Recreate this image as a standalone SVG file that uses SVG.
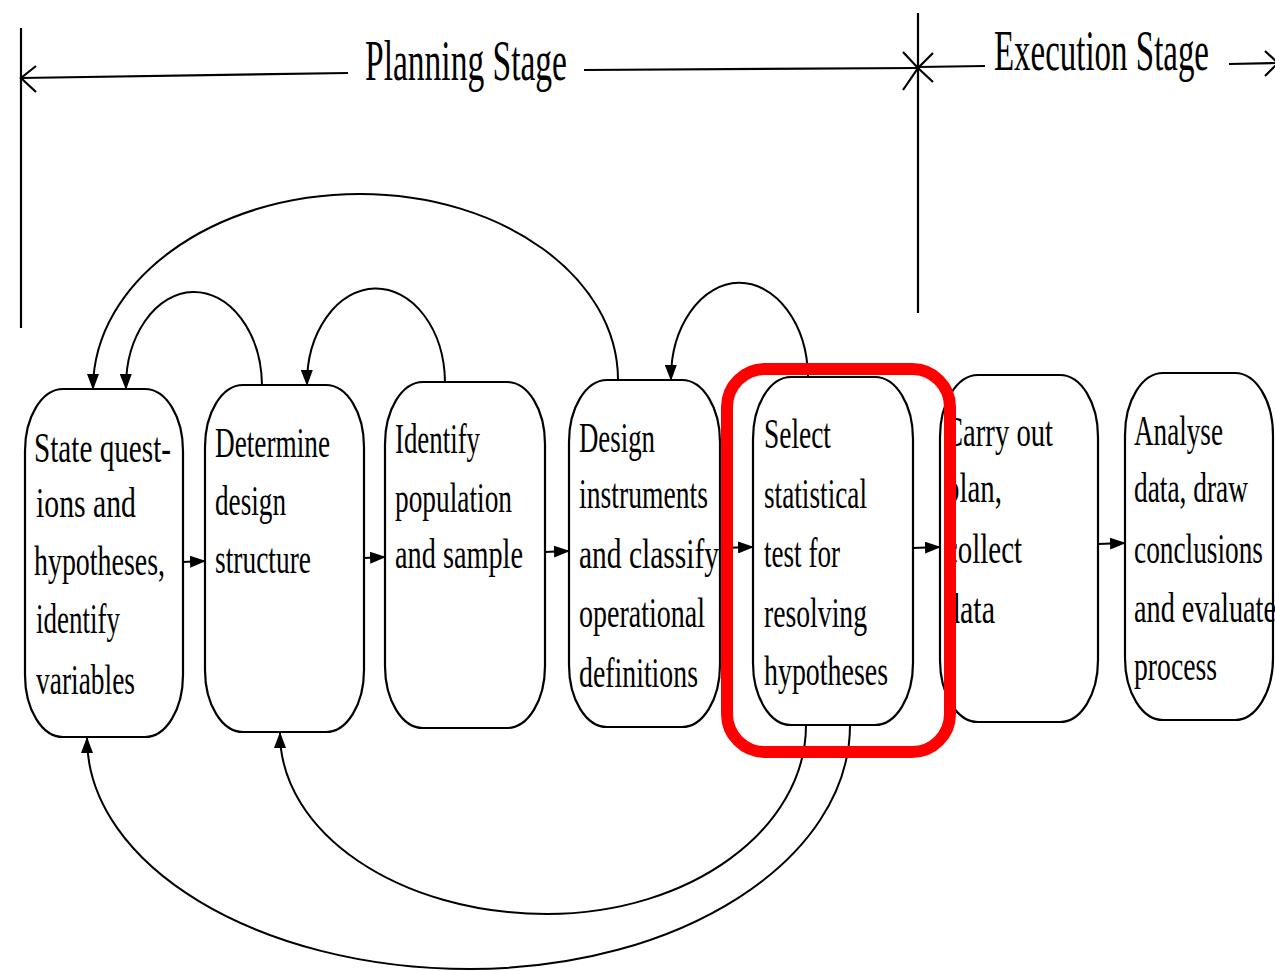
<svg xmlns="http://www.w3.org/2000/svg" width="1275" height="971" viewBox="0 0 1275 971">
<style>
.bx{fill:#fff;stroke:#000;stroke-width:2.2}
.t{font-family:"Liberation Serif","Times New Roman",serif;font-size:43px;fill:#000}
.h{font-family:"Liberation Serif","Times New Roman",serif;font-size:56px;fill:#000}
.ln{fill:none;stroke:#000;stroke-width:2.2}
.ar{fill:none;stroke:#000;stroke-width:2;marker-end:url(#ah)}
</style>
<defs>
<marker id="ah" markerUnits="userSpaceOnUse" markerWidth="16" markerHeight="12" refX="15" refY="6" orient="auto" viewBox="0 0 16 12">
<path d="M0,0 L16,6 L0,12 z" fill="#000"/>
</marker>
</defs>
<rect width="1275" height="971" fill="#fff"/>

<g id="header">
<path class="ln" d="M21 28 L21 328"/>
<path class="ln" d="M21 78 L348 73"/>
<path class="ln" d="M36 66 L21 78 L36 92"/>
<text class="h" x="365" y="80" textLength="202" lengthAdjust="spacingAndGlyphs">Planning Stage</text>
<path class="ln" d="M584 70 L918 68"/>
<path class="ln" d="M918 13 L918 313"/>
<path class="ln" d="M903 52 L918 68 L903 90"/>
<path class="ln" d="M933 53 L918 68 L933 82"/>
<path class="ln" d="M918 67 L985 66"/>
<text class="h" x="994" y="70" textLength="215" lengthAdjust="spacingAndGlyphs">Execution Stage</text>
<path class="ln" d="M1229 64 L1276 63"/>
<path class="ln" d="M1265 51 L1278 63 L1265 76"/>
</g>

<g id="n1">
<rect class="bx" x="25" y="389" width="158" height="348" rx="38" ry="62"/>
<text class="t" x="34" y="462" textLength="137" lengthAdjust="spacingAndGlyphs">State quest-</text>
<text class="t" x="36" y="517" textLength="100" lengthAdjust="spacingAndGlyphs">ions and</text>
<text class="t" x="34" y="575" textLength="131" lengthAdjust="spacingAndGlyphs">hypotheses,</text>
<text class="t" x="36" y="633" textLength="84" lengthAdjust="spacingAndGlyphs">identify</text>
<text class="t" x="36" y="694" textLength="99" lengthAdjust="spacingAndGlyphs">variables</text>
</g>

<g id="n2">
<rect class="bx" x="205" y="385" width="159" height="347" rx="38" ry="62"/>
<text class="t" x="215" y="457" textLength="115" lengthAdjust="spacingAndGlyphs">Determine</text>
<text class="t" x="215" y="515" textLength="71" lengthAdjust="spacingAndGlyphs">design</text>
<text class="t" x="215" y="573" textLength="96" lengthAdjust="spacingAndGlyphs">structure</text>
</g>

<g id="n3">
<rect class="bx" x="385" y="382" width="160" height="346" rx="38" ry="62"/>
<text class="t" x="395" y="453" textLength="85" lengthAdjust="spacingAndGlyphs">Identify</text>
<text class="t" x="395" y="512" textLength="117" lengthAdjust="spacingAndGlyphs">population</text>
<text class="t" x="395" y="568" textLength="128" lengthAdjust="spacingAndGlyphs">and sample</text>
</g>

<g id="n4">
<rect class="bx" x="569" y="380" width="151" height="347" rx="38" ry="62"/>
<text class="t" x="579" y="452" textLength="76" lengthAdjust="spacingAndGlyphs">Design</text>
<text class="t" x="579" y="508" textLength="129" lengthAdjust="spacingAndGlyphs">instruments</text>
<text class="t" x="579" y="568" textLength="140" lengthAdjust="spacingAndGlyphs">and classify</text>
<text class="t" x="579" y="627" textLength="126" lengthAdjust="spacingAndGlyphs">operational</text>
<text class="t" x="579" y="687" textLength="119" lengthAdjust="spacingAndGlyphs">definitions</text>
</g>

<g id="n5">
<rect class="bx" x="753" y="377" width="160" height="348" rx="38" ry="62"/>
<text class="t" x="764" y="448" textLength="67" lengthAdjust="spacingAndGlyphs">Select</text>
<text class="t" x="764" y="508" textLength="103" lengthAdjust="spacingAndGlyphs">statistical</text>
<text class="t" x="764" y="567" textLength="76" lengthAdjust="spacingAndGlyphs">test for</text>
<text class="t" x="764" y="627" textLength="103" lengthAdjust="spacingAndGlyphs">resolving</text>
<text class="t" x="764" y="685" textLength="124" lengthAdjust="spacingAndGlyphs">hypotheses</text>
</g>

<g id="n6">
<rect class="bx" x="940" y="375" width="158" height="347" rx="38" ry="62"/>
<text class="t" x="944" y="446" textLength="109" lengthAdjust="spacingAndGlyphs">Carry out</text>
<text class="t" x="945" y="502" textLength="57" lengthAdjust="spacingAndGlyphs">plan,</text>
<text class="t" x="945" y="563" textLength="77" lengthAdjust="spacingAndGlyphs">collect</text>
<text class="t" x="945" y="623" textLength="50" lengthAdjust="spacingAndGlyphs">data</text>
</g>

<g id="n7">
<rect class="bx" x="1125" y="373" width="148" height="347" rx="38" ry="62"/>
<text class="t" x="1134" y="445" textLength="89" lengthAdjust="spacingAndGlyphs">Analyse</text>
<text class="t" x="1134" y="502" textLength="114" lengthAdjust="spacingAndGlyphs">data, draw</text>
<text class="t" x="1134" y="563" textLength="129" lengthAdjust="spacingAndGlyphs">conclusions</text>
<text class="t" x="1134" y="622" textLength="142" lengthAdjust="spacingAndGlyphs">and evaluate</text>
<text class="t" x="1134" y="680" textLength="83" lengthAdjust="spacingAndGlyphs">process</text>
</g>

<g id="connectors">
<path class="ar" d="M183 562 L205 561"/>
<path class="ar" d="M364 558 L385 557"/>
<path class="ar" d="M545 552 L569 551"/>
<path class="ar" d="M720 548 L753 547"/>
<path class="ar" d="M913 548 L940 547"/>
<path class="ar" d="M1098 544 L1125 543"/>
<path class="ar" d="M618 380 C618 277.3 502.5 194 360 194 C212.5 194 93 281.3 93 389"/>
<path class="ar" d="M262 385 A68 95 0 0 0 126 389"/>
<path class="ar" d="M445 382 A69 95 0 0 0 307 385"/>
<path class="ar" d="M808 377 A68 95 0 0 0 671 380"/>
<path class="ar" d="M806 725 C806 829.4 690 914 547 914 C399.5 914 280 833 280 733"/>
<path class="ar" d="M850 725 C850 859.8 679.9 969 470 969 C258.5 969 87 865.6 87 738"/>
</g>

<g id="highlight">
<rect x="727" y="369" width="223" height="383" rx="38" ry="38" fill="none" stroke="#ff0000" stroke-width="12"/>
</g>
</svg>
